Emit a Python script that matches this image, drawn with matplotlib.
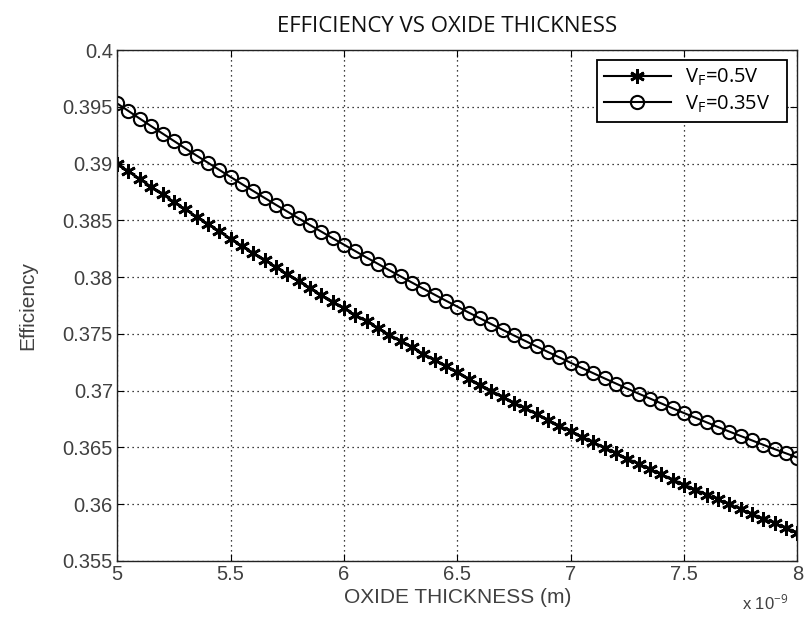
import numpy as np
import matplotlib
matplotlib.use("Agg")
import matplotlib.pyplot as plt
from matplotlib.ticker import FuncFormatter

# ─── Data ────────────────────────────────────────────────────────────────────
# oxide thickness sweep, 5 nm .. 8 nm in 0.05 nm steps (metres)
thickness = np.linspace(5e-9, 8e-9, 61)

# efficiency at V_F = 0.5 V
eff_05 = [
    0.39000, 0.38932, 0.38864, 0.38797, 0.38730, 0.38663, 0.38598, 0.38532,
    0.38467, 0.38403, 0.38339, 0.38275, 0.38212, 0.38150, 0.38088, 0.38026,
    0.37965, 0.37905, 0.37844, 0.37785, 0.37726, 0.37667, 0.37609, 0.37551,
    0.37494, 0.37437, 0.37381, 0.37325, 0.37269, 0.37215, 0.37160, 0.37106,
    0.37053, 0.37000, 0.36947, 0.36895, 0.36844, 0.36793, 0.36742, 0.36692,
    0.36642, 0.36593, 0.36545, 0.36496, 0.36449, 0.36402, 0.36355, 0.36309,
    0.36263, 0.36217, 0.36173, 0.36128, 0.36084, 0.36041, 0.35998, 0.35956,
    0.35914, 0.35872, 0.35831, 0.35791, 0.35750,
]

# efficiency at V_F = 0.35 V
eff_035 = [
    0.39530, 0.39463, 0.39396, 0.39330, 0.39265, 0.39200, 0.39135, 0.39071,
    0.39008, 0.38945, 0.38882, 0.38820, 0.38759, 0.38698, 0.38637, 0.38578,
    0.38518, 0.38459, 0.38401, 0.38343, 0.38286, 0.38229, 0.38172, 0.38117,
    0.38061, 0.38006, 0.37952, 0.37898, 0.37845, 0.37792, 0.37740, 0.37688,
    0.37637, 0.37586, 0.37536, 0.37486, 0.37437, 0.37389, 0.37340, 0.37293,
    0.37245, 0.37199, 0.37153, 0.37107, 0.37062, 0.37017, 0.36973, 0.36930,
    0.36887, 0.36844, 0.36802, 0.36761, 0.36720, 0.36679, 0.36639, 0.36600,
    0.36561, 0.36522, 0.36484, 0.36447, 0.36410,
]

x_ticks = [5e-9, 5.5e-9, 6e-9, 6.5e-9, 7e-9, 7.5e-9, 8e-9]
y_ticks = [0.355, 0.36, 0.365, 0.37, 0.375, 0.38, 0.385, 0.39, 0.395, 0.4]

labels = ["V$_F$=0.5V   ", "V$_F$=0.35V   "]

# ─── Plot ────────────────────────────────────────────────────────────────────
plt.rcParams["font.family"] = ["Liberation Sans", "DejaVu Sans"]
plt.rcParams["mathtext.fontset"] = "custom"
plt.rcParams["mathtext.rm"] = "Open Sans"
plt.rcParams["mathtext.it"] = "Open Sans"

fig = plt.figure(figsize=(8.08, 6.26), dpi=100)
ax = fig.add_axes([0.145, 0.104, 0.842, 0.816])

# asterisk marker for the 0.5 V sweep, open circles for 0.35 V
ax.plot(thickness, eff_05, color="black", linewidth=1.5, marker=(6, 2, 0),
        markersize=10.5, markeredgewidth=2.0, label=labels[0])
ax.plot(thickness, eff_035, color="black", linewidth=1.5, marker="o",
        markersize=9.5, markerfacecolor="none", markeredgewidth=1.5,
        label=labels[1])

ax.set_xlim(5e-9, 8e-9)
ax.set_ylim(0.355, 0.4)
ax.set_xticks(x_ticks)
ax.set_yticks(y_ticks)
ax.xaxis.set_major_formatter(FuncFormatter(lambda v, p: f"{v * 1e9:g}"))
ax.yaxis.set_major_formatter(FuncFormatter(lambda v, p: f"{v:g}"))

tick_color = "#404040"
ax.tick_params(direction="in", top=True, right=True, length=5,
               labelsize=14.5, labelcolor=tick_color, width=0.8, pad=3)
ax.grid(True, linestyle=(0, (1, 3)), color="black", linewidth=0.9)
for sp in ax.spines.values():
    sp.set_linewidth(1.0)
    sp.set_color("#222222")

ax.set_xlabel("OXIDE THICKNESS (m)", fontsize=15, color=tick_color, labelpad=3)
ax.set_ylabel("Efficiency", fontsize=15, color=tick_color, labelpad=18)

fig.text(0.918, 0.022, "x 10$^{-9}$", fontsize=12, color=tick_color,
         ha="left", va="bottom", family=["Liberation Sans"])
fig.text(0.553, 0.958, "EFFICIENCY VS OXIDE THICKNESS", fontsize=16,
         ha="center", va="center", color="#111111",
         family=["Open Sans", "DejaVu Sans"])

leg = ax.legend(loc="upper right", frameon=True, fancybox=False,
                edgecolor="black", handlelength=3.3, borderaxespad=0.5,
                borderpad=0.35, labelspacing=0.25, handletextpad=0.7,
                prop={"family": ["Open Sans", "DejaVu Sans"], "size": 14.5})
leg.get_frame().set_linewidth(1.3)
leg.get_frame().set_alpha(1.0)

fig.savefig("out.png", dpi=100, facecolor="white")
